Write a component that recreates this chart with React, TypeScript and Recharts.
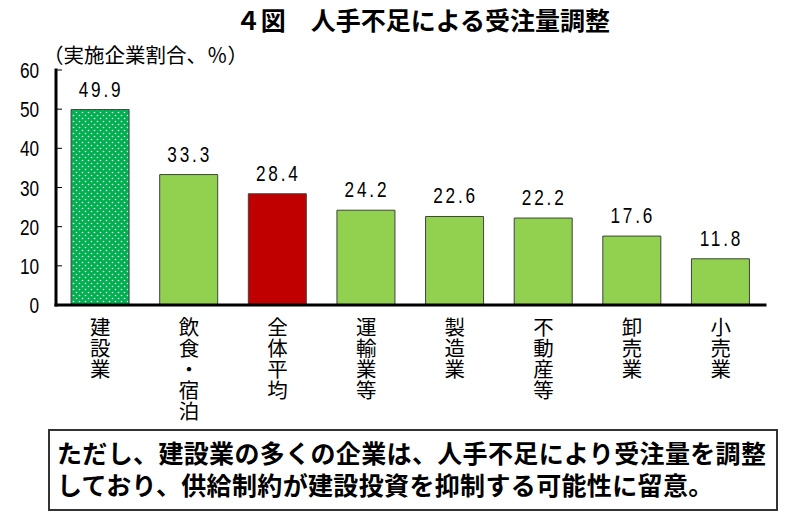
import { BarChart, Bar, XAxis, YAxis, Cell, LabelList } from "recharts";

const categories = ["建設業", "飲食・宿泊", "全体平均", "運輸業等", "製造業", "不動産等", "卸売業", "小売業"];
const shares = [49.9, 33.3, 28.4, 24.2, 22.6, 22.2, 17.6, 11.8];
const yTicks = [0, 10, 20, 30, 40, 50, 60];

const data = categories.map((name, i) => ({ name, value: shares[i] }));

const GREEN = "#92D050";
const RED = "#C00000";
const NUM_FONT = "'Liberation Sans', Arial, sans-serif";
const JP_FONT = "'Noto Sans CJK JP', sans-serif";

const fillFor = (name: string) => {
  if (name === "建設業") return "url(#dots)";
  if (name === "全体平均") return RED;
  return GREEN;
};

// numbers in the original are a tall, narrow face: squeeze a normal sans
const NarrowText = ({ x, y, anchor, spacing = 0, children }: any) => (
  <text
    transform={`translate(${x},${y}) scale(0.8,1)`}
    textAnchor={anchor}
    fontSize={21.5}
    fontFamily={NUM_FONT}
    letterSpacing={spacing}
    fill="#000"
  >
    {children}
  </text>
);

// y tick: label to the left, short tick pointing into the plot
const YTick = ({ x, y, payload }: any) => (
  <g>
    <line x1={x} x2={x + 6} y1={y} y2={y} stroke="#000" strokeWidth={1} />
    <NarrowText x={x - 17} y={y + 8} anchor="end">
      {payload.value}
    </NarrowText>
  </g>
);

// category names written top-to-bottom, one character per line
const XTick = ({ x, y, payload }: any) => (
  <text x={x} y={y} textAnchor="middle" fontSize={20.5} fontFamily={JP_FONT} fill="#000">
    {Array.from(payload.value as string).map((ch, i) => (
      <tspan key={i} x={x} dy={i === 0 ? 30 : 21}>
        {ch}
      </tspan>
    ))}
  </text>
);

const ValueLabel = ({ x, y, width, value }: any) => (
  <NarrowText x={x + width / 2 + 1} y={y - 13} anchor="middle" spacing={3.5}>
    {Number(value).toFixed(1)}
  </NarrowText>
);

export default function App() {
  return (
    <div style={{ position: "absolute", left: 0, top: 0, width: 791, height: 516, background: "#fff" }}>
      <svg width={0} height={0} style={{ position: "absolute" }}>
        <defs>
          <pattern id="dots" width={6} height={6} patternUnits="userSpaceOnUse">
            <rect width={6} height={6} fill="#00B050" />
            <circle cx={1.5} cy={1.5} r={0.8} fill="#fff" />
            <circle cx={4.5} cy={4.5} r={0.8} fill="#fff" />
          </pattern>
        </defs>
      </svg>

      {/* Title */}
      <div
        style={{
          position: "absolute",
          left: 0,
          width: 846,
          top: 3,
          textAlign: "center",
          fontFamily: JP_FONT,
          fontWeight: 700,
          fontSize: 25,
          lineHeight: "32px",
          color: "#000",
        }}
      >
        ４図　人手不足による受注量調整
      </div>

      {/* Unit */}
      <div
        style={{
          position: "absolute",
          left: 43,
          top: 40,
          fontFamily: JP_FONT,
          fontSize: 20.5,
          lineHeight: "28px",
          color: "#000",
        }}
      >
        （実施企業割合、％）
      </div>

      <BarChart
        width={791}
        height={516}
        data={data}
        margin={{ top: 70, right: 26, left: 16, bottom: 91 }}
        barCategoryGap="17%"
      >
        <XAxis
          dataKey="name"
          interval={0}
          height={120}
          tickLine={false}
          tickSize={0}
          tickMargin={0}
          axisLine={{ stroke: "#000", strokeWidth: 3, strokeLinecap: "square" }}
          tick={<XTick />}
        />
        <XAxis
          xAxisId="top"
          dataKey="name"
          orientation="top"
          height={0}
          tick={false}
          tickLine={false}
          axisLine={{ stroke: "#000", strokeWidth: 3, strokeLinecap: "square" }}
        />
        <YAxis
          domain={[0, 60]}
          ticks={yTicks}
          width={40}
          tickLine={false}
          tickSize={0}
          tickMargin={0}
          axisLine={{ stroke: "#000", strokeWidth: 3, strokeLinecap: "square" }}
          tick={<YTick />}
        />
        <YAxis
          yAxisId="right"
          orientation="right"
          domain={[0, 60]}
          width={0}
          tick={false}
          tickLine={false}
          axisLine={{ stroke: "#000", strokeWidth: 3, strokeLinecap: "square" }}
        />
        <Bar dataKey="value" stroke="#404040" strokeWidth={1} isAnimationActive={false}>
          {data.map((d) => (
            <Cell key={d.name} fill={fillFor(d.name)} />
          ))}
          <LabelList dataKey="value" content={<ValueLabel />} />
        </Bar>
      </BarChart>

      {/* Note box */}
      <div
        style={{
          position: "absolute",
          left: 48,
          top: 429,
          width: 719,
          height: 73,
          border: "2px solid #333",
          fontFamily: JP_FONT,
          fontWeight: 700,
          fontSize: 25,
          letterSpacing: 0.35,
          lineHeight: "32px",
          color: "#000",
          padding: "5px 0 0 7px",
          boxSizing: "content-box",
          whiteSpace: "nowrap",
        }}
      >
        <div>ただし、建設業の多くの企業は、人手不足により受注量を調整</div>
        <div>しており、供給制約が建設投資を抑制する可能性に留意。</div>
      </div>
    </div>
  );
}
